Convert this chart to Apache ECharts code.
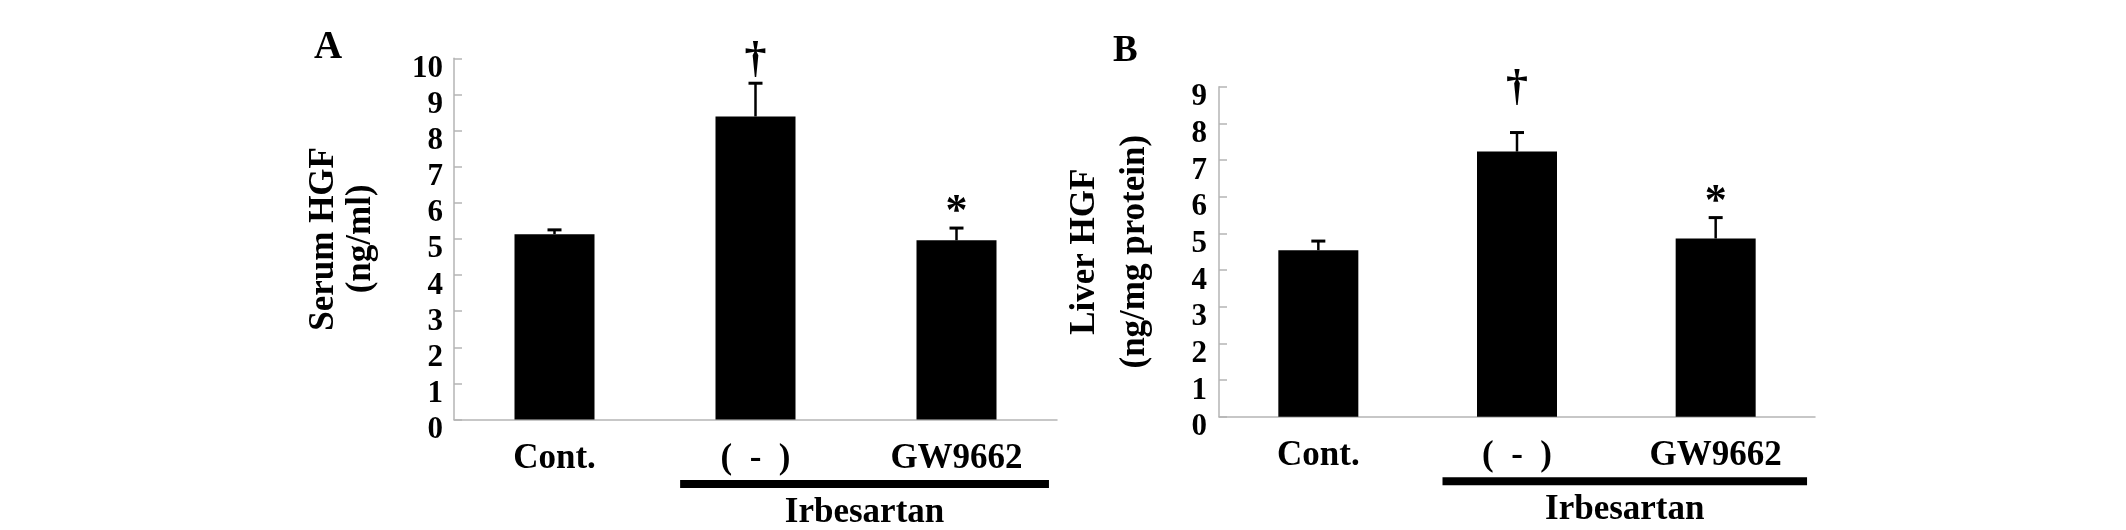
<!DOCTYPE html>
<html>
<head>
<meta charset="utf-8">
<script src="https://cdn.jsdelivr.net/npm/echarts@6/dist/echarts.min.js"></script>
<style>
html,body{margin:0;padding:0;background:#fff;}
#chart{width:2126px;height:530px;}
</style>
</head>
<body>
<div id="chart"></div>
<script>
// ---- data ----
const categories = ['Cont.', '(  -  )', 'GW9662'];
const serumMean = [5.13, 8.39, 4.96];
const serumErr = [0.12, 0.92, 0.34];
const liverMean = [4.54, 7.23, 4.86];
const liverErr = [0.25, 0.52, 0.57];
const serumMarks = ['', '\u2020', '*'];
const liverMarks = ['', '\u2020', '*'];
const serumAxis = { min: 0, max: 10, interval: 1 };
const liverAxis = { min: 0, max: 9, interval: 1 };
const serumTitle = 'Serum HGF\n(ng/ml)';
const liverTitle = 'Liver HGF\n(ng/mg protein)';
const groupLabel = 'Irbesartan';
const groupRange = [1, 2];
const panelLetters = ['A', 'B'];

// ---- style ----
const FONT = '"Liberation Serif", "Times New Roman", serif';
const AXIS_GRAY = '#b5b5b5';

function errorSeries(idx, means, errs, marks, gaps) {
  return {
    type: 'custom',
    xAxisIndex: idx, yAxisIndex: idx,
    clip: false, z: 10,
    data: means.map((m, i) => [i, m, errs[i]]),
    renderItem: function (params, api) {
      const i = api.value(0), m = api.value(1), e = api.value(2);
      const base = api.coord([i, m]);
      const top = api.coord([i, m + e]);
      const cap = 7;
      const children = [
        { type: 'line', shape: { x1: base[0], y1: base[1], x2: top[0], y2: top[1] },
          style: { stroke: '#000', lineWidth: 2.5 } },
        { type: 'line', shape: { x1: top[0] - cap, y1: top[1], x2: top[0] + cap, y2: top[1] },
          style: { stroke: '#000', lineWidth: 3 } }
      ];
      const mk = marks[params.dataIndex];
      if (mk) {
        const gap = mk === '*' ? gaps.star : gaps.dagger;
        children.push({
          type: 'text', x: top[0], y: top[1] - gap,
          style: { text: mk, fill: '#000', font: 'bold 44px ' + FONT,
                   textAlign: 'center', textVerticalAlign: 'middle' }
        });
      }
      return { type: 'group', children: children };
    }
  };
}

function groupSeries(idx) {
  return {
    type: 'custom',
    xAxisIndex: idx, yAxisIndex: idx,
    clip: false, silent: true,
    data: [[groupRange[0], groupRange[1]]],
    renderItem: function (params, api) {
      const a = api.value(0), b = api.value(1);
      const pa = api.coord([a, 0]);
      const pb = api.coord([b, 0]);
      const bw = api.size([1, 0])[0];
      const x1 = pa[0] - 0.375 * bw;
      const x2 = pb[0] + 0.46 * bw;
      const y = pa[1] + 60.5;
      return {
        type: 'group',
        children: [
          { type: 'rect', shape: { x: x1, y: y, width: x2 - x1, height: 8 }, style: { fill: '#000' } },
          { type: 'text', x: (x1 + x2) / 2, y: y + 33,
            style: { text: groupLabel, fill: '#000', font: 'bold 35px ' + FONT,
                     textAlign: 'center', textVerticalAlign: 'middle' } }
        ]
      };
    }
  };
}

function xAxisCfg(idx) {
  return {
    type: 'category', gridIndex: idx, data: categories,
    axisLine: { lineStyle: { color: AXIS_GRAY, width: 1.5 } },
    axisTick: { show: false },
    axisLabel: { interval: 0, margin: 22, color: '#000', fontSize: 35, fontWeight: 'bold', fontFamily: FONT }
  };
}

function yAxisCfg(idx, ax, title, gap, lh, margin) {
  return {
    type: 'value', gridIndex: idx, min: ax.min, max: ax.max, interval: ax.interval,
    splitLine: { show: false },
    axisLine: { show: true, lineStyle: { color: AXIS_GRAY, width: 1.5 } },
    axisTick: { show: true, inside: true, length: 8, lineStyle: { color: AXIS_GRAY, width: 1.5 } },
    axisLabel: { margin: margin, color: '#000', fontSize: 31, fontWeight: 'bold', fontFamily: FONT,
                 verticalAlign: 'top', lineHeight: 21 },
    name: title, nameLocation: 'middle', nameRotate: 90, nameGap: gap,
    nameTextStyle: { color: '#000', fontSize: 35, fontWeight: 'bold', fontFamily: FONT, lineHeight: lh }
  };
}

const chart = echarts.init(document.getElementById('chart'), null, { renderer: 'canvas' });
chart.setOption({
  backgroundColor: '#fff',
  animation: false,
  grid: [
    { left: 454, top: 58.3, width: 603, height: 361.2 },
    { left: 1219, top: 86.7, width: 596, height: 330 }
  ],
  xAxis: [xAxisCfg(0), xAxisCfg(1)],
  yAxis: [
    yAxisCfg(0, serumAxis, serumTitle, 75, 37, 11),
    yAxisCfg(1, liverAxis, liverTitle, 59, 50, 12)
  ],
  graphic: [
    { type: 'text', left: 314, top: 28, style: { text: panelLetters[0], fill: '#000', font: 'bold 39px ' + FONT } },
    { type: 'text', left: 1113, top: 33, style: { text: panelLetters[1], fill: '#000', font: 'bold 37px ' + FONT } }
  ],
  series: [
    { type: 'bar', xAxisIndex: 0, yAxisIndex: 0, data: serumMean, barWidth: 80, itemStyle: { color: '#000' } },
    { type: 'bar', xAxisIndex: 1, yAxisIndex: 1, data: liverMean, barWidth: 80, itemStyle: { color: '#000' } },
    errorSeries(0, serumMean, serumErr, serumMarks, { dagger: 23, star: 15 }),
    errorSeries(1, liverMean, liverErr, liverMarks, { dagger: 44, star: 15 }),
    groupSeries(0),
    groupSeries(1)
  ]
});
</script>
</body>
</html>
